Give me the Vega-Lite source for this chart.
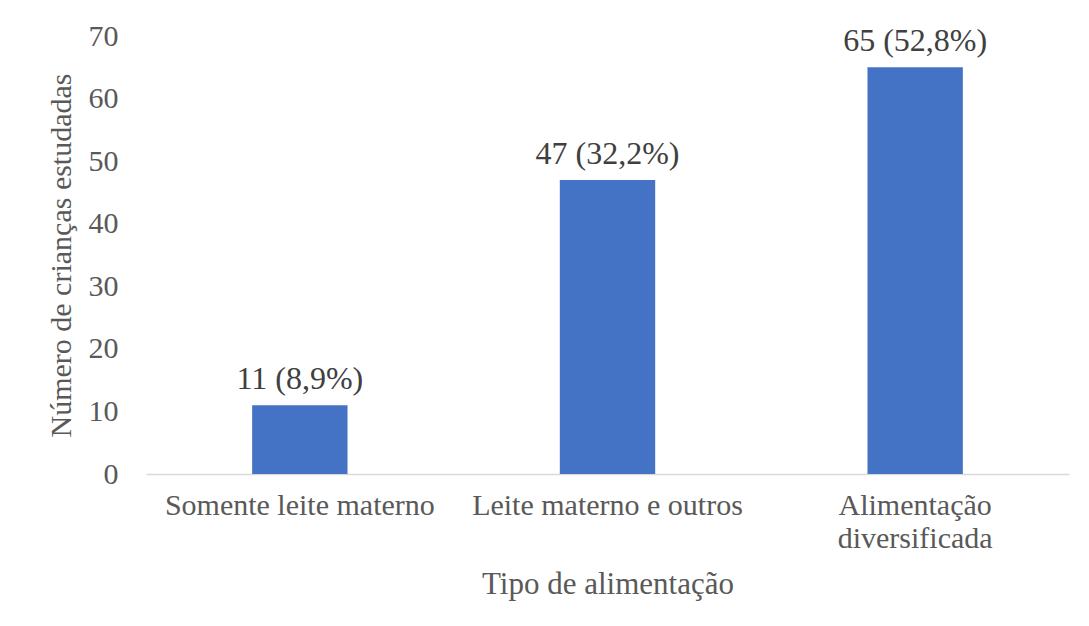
{
  "$schema": "https://vega.github.io/schema/vega-lite/v6.json",
  "width": 923,
  "height": 438,
  "autosize": {"type": "none"},
  "padding": {"left": 146, "top": 36, "right": 20, "bottom": 152},
  "background": "white",
  "config": {
    "view": {"stroke": null},
    "font": "Liberation Serif",
    "axis": {"labelFont": "Liberation Serif", "titleFont": "Liberation Serif", "labelColor": "#595959", "titleColor": "#595959", "titleFontWeight": "normal"}
  },
  "data": {
    "values": [
      {"tipo": "Somente leite materno", "n": 11, "rotulo": "11 (8,9%)"},
      {"tipo": "Leite materno e outros", "n": 47, "rotulo": "47 (32,2%)"},
      {"tipo": "Alimentação diversificada", "n": 65, "rotulo": "65 (52,8%)"}
    ]
  },
  "encoding": {
    "x": {
      "field": "tipo", "type": "nominal", "sort": null,
      "scale": {"paddingInner": 0.69, "paddingOuter": 0.345},
      "axis": {
        "title": "Tipo de alimentação", "labelAngle": 0, "labelFontSize": 30, "titleFontSize": 31,
        "ticks": false, "domainColor": "#d9d9d9", "domainWidth": 1.5, "labelPadding": 16, "titlePadding": 16,
        "labelLimit": 400, "labelLineHeight": 33,
        "labelExpr": "datum.label == 'Alimentação diversificada' ? ['Alimentação', 'diversificada'] : datum.label"
      }
    },
    "y": {
      "field": "n", "type": "quantitative",
      "scale": {"domain": [0, 70]},
      "axis": {
        "title": "Número de crianças estudadas", "values": [0, 10, 20, 30, 40, 50, 60, 70],
        "grid": false, "ticks": false, "domain": false, "labelFontSize": 30, "titleFontSize": 30,
        "labelPadding": 28, "titlePadding": 12
      }
    }
  },
  "layer": [
    {"mark": {"type": "bar", "color": "#4472C4"}},
    {
      "mark": {"type": "text", "baseline": "alphabetic", "dy": -16, "fontSize": 32, "color": "#404040", "font": "Liberation Serif"},
      "encoding": {"text": {"field": "rotulo"}}
    }
  ]
}
